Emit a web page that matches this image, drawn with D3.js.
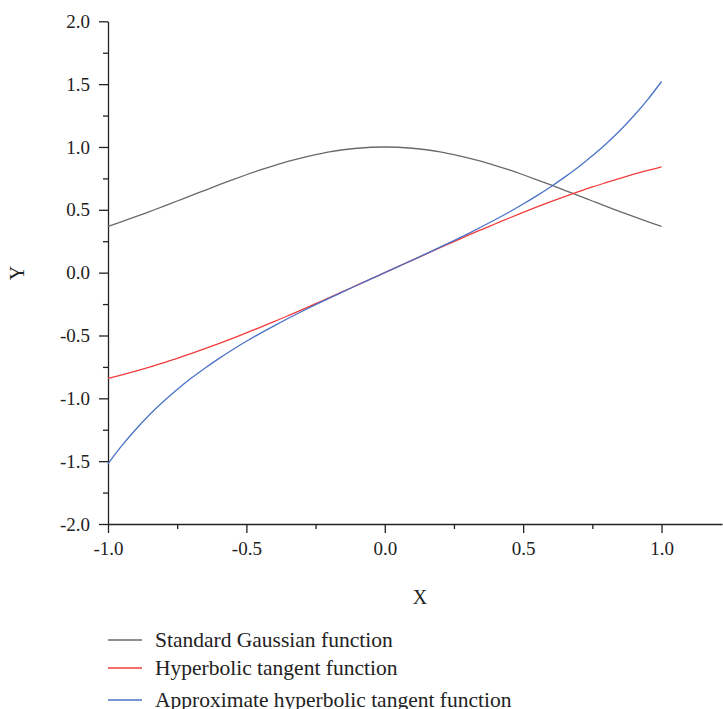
<!DOCTYPE html>
<html>
<head>
<meta charset="utf-8">
<script src="https://cdn.jsdelivr.net/npm/d3@7"></script>
<style>
  body { margin: 0; background: #fff; }
  text { font-family: "Liberation Serif", "DejaVu Serif", serif; fill: #222; }
</style>
</head>
<body>
<script>
const xValues = [-1.00, -0.95, -0.90, -0.85, -0.80, -0.75, -0.70, -0.65, -0.60, -0.55, -0.50,
                 -0.45, -0.40, -0.35, -0.30, -0.25, -0.20, -0.15, -0.10, -0.05, 0.00,
                 0.05, 0.10, 0.15, 0.20, 0.25, 0.30, 0.35, 0.40, 0.45, 0.50,
                 0.55, 0.60, 0.65, 0.70, 0.75, 0.80, 0.85, 0.90, 0.95, 1.00];
const gaussian = [0.368, 0.406, 0.445, 0.486, 0.527, 0.570, 0.613, 0.655, 0.698, 0.739, 0.779,
                  0.817, 0.852, 0.885, 0.914, 0.939, 0.961, 0.978, 0.990, 0.998, 1.000,
                  0.998, 0.990, 0.978, 0.961, 0.939, 0.914, 0.885, 0.852, 0.817, 0.779,
                  0.739, 0.698, 0.655, 0.613, 0.570, 0.527, 0.486, 0.445, 0.406, 0.368];
const hyperTan = [-0.841, -0.813, -0.783, -0.751, -0.717, -0.682, -0.644, -0.605, -0.565, -0.523, -0.479,
                  -0.435, -0.389, -0.343, -0.296, -0.247, -0.199, -0.149, -0.100, -0.050, 0.000,
                  0.050, 0.100, 0.149, 0.199, 0.247, 0.296, 0.343, 0.389, 0.435, 0.479,
                  0.523, 0.565, 0.605, 0.644, 0.682, 0.717, 0.751, 0.783, 0.813, 0.841];
const approxTan = [-1.521, -1.377, -1.248, -1.131, -1.026, -0.930, -0.841, -0.760, -0.684, -0.613, -0.546,
                   -0.483, -0.423, -0.365, -0.309, -0.255, -0.203, -0.151, -0.100, -0.050, 0.000,
                   0.050, 0.100, 0.151, 0.203, 0.255, 0.309, 0.365, 0.423, 0.483, 0.546,
                   0.613, 0.684, 0.760, 0.841, 0.930, 1.026, 1.131, 1.248, 1.377, 1.521];

const seriesNames = ["Standard Gaussian function", "Hyperbolic tangent function", "Approximate hyperbolic tangent function"];
const seriesColors = ["#6a6a6a", "#f23c3c", "#4a72c6"];

const xTicks = [-1.0, -0.5, 0.0, 0.5, 1.0];
const xMinor = [-0.75, -0.25, 0.25, 0.75];
const yTicks = [-2.0, -1.5, -1.0, -0.5, 0.0, 0.5, 1.0, 1.5, 2.0];
const yMinor = [-1.75, -1.25, -0.75, -0.25, 0.25, 0.75, 1.25, 1.75];

const WIDTH = 723, HEIGHT = 709;

const svg = d3.select("body").append("svg").attr("width", WIDTH).attr("height", HEIGHT);

// Scales (x axis line runs past 1.0 to the right edge)
const x = d3.scaleLinear().domain([-1, 1.2185]).range([108, 722]);
const y = d3.scaleLinear().domain([-2, 2]).range([524, 21.3]);

// plain hyphen for negatives, like the original
const fmt = d => d3.format(".1f")(d).replace("\u2212", "-");

// Axes
svg.append("g").attr("transform", `translate(0,${y(-2)})`)
    .call(d3.axisBottom(x).tickValues(xTicks).tickSize(9).tickSizeOuter(0)
          .tickFormat(fmt).tickPadding(9));
svg.append("g").attr("transform", `translate(0,${y(-2)})`)
    .call(d3.axisBottom(x).tickValues(xMinor).tickSize(5).tickFormat(""))
    .select(".domain").remove();

svg.append("g").attr("transform", `translate(${x(-1)},0)`)
    .call(d3.axisLeft(y).tickValues(yTicks).tickSize(9).tickSizeOuter(0)
          .tickFormat(fmt).tickPadding(9));
svg.append("g").attr("transform", `translate(${x(-1)},0)`)
    .call(d3.axisLeft(y).tickValues(yMinor).tickSize(5).tickFormat(""))
    .select(".domain").remove();

svg.selectAll(".domain, .tick line").attr("stroke", "#222").attr("stroke-width", 1.3);
svg.selectAll(".tick text").attr("font-family", "Liberation Serif").attr("font-size", 19).attr("fill", "#222");

// Axis titles
svg.append("text").attr("x", 420).attr("y", 604).attr("text-anchor", "middle")
    .attr("font-size", 20).text("X");
svg.append("text").attr("transform", "translate(24,273) rotate(-90)").attr("text-anchor", "middle")
    .attr("font-size", 20).text("Y");

// Curves
const line = d3.line().x(d => x(d[0])).y(d => y(d[1])).curve(d3.curveCatmullRom);
[gaussian, hyperTan, approxTan].forEach((vals, i) => {
    svg.append("path")
        .datum(xValues.map((xv, j) => [xv, vals[j]]))
        .attr("fill", "none")
        .attr("stroke", seriesColors[i])
        .attr("stroke-width", 1.3)
        .attr("d", line);
});

// Legend
const legendY = [640, 668, 700];
seriesNames.forEach((name, i) => {
    svg.append("line").attr("x1", 108).attr("x2", 142).attr("y1", legendY[i]).attr("y2", legendY[i])
        .attr("stroke", seriesColors[i]).attr("stroke-width", 1.3);
    svg.append("text").attr("x", 155).attr("y", legendY[i] + 7).attr("font-size", 21.5).text(name);
});
</script>
</body>
</html>
